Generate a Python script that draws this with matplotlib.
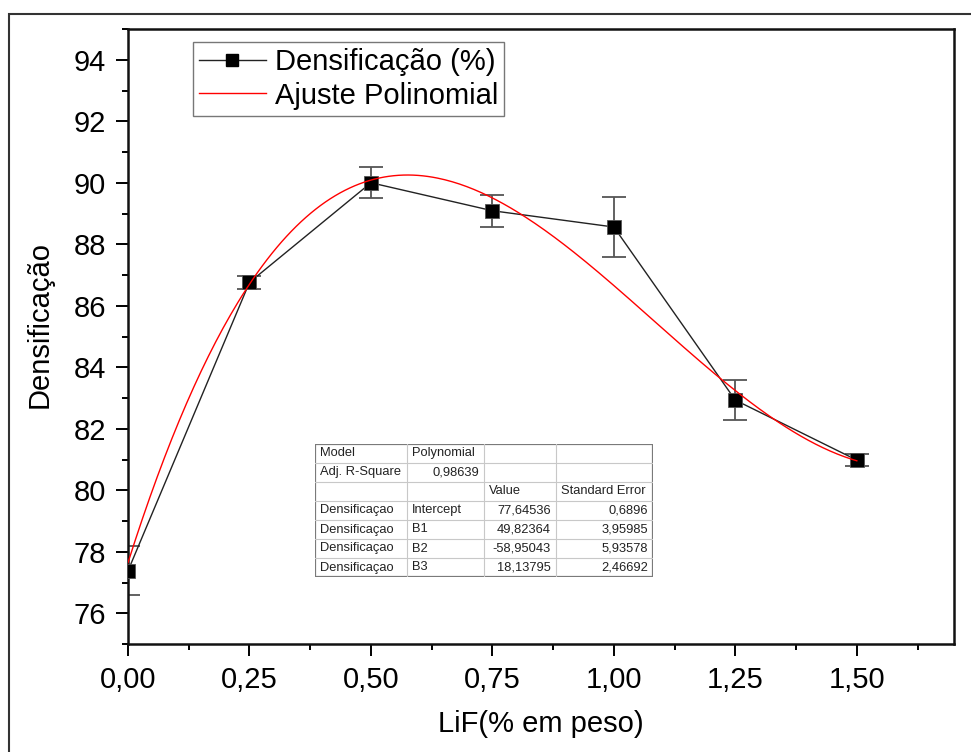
import numpy as np
import matplotlib
matplotlib.use("Agg")
import matplotlib.pyplot as plt
from matplotlib.patches import Rectangle
from matplotlib.lines import Line2D

plt.rcParams['font.family'] = ['Liberation Sans', 'DejaVu Sans']

# Measured densification vs LiF content
lif = [0.00, 0.25, 0.50, 0.75, 1.00, 1.25, 1.50]
densif = [77.38, 86.76, 90.00, 89.09, 88.56, 82.93, 80.98]
densif_err = [0.80, 0.21, 0.50, 0.52, 0.97, 0.65, 0.19]

# Cubic fit coefficients (Intercept, B1, B2, B3) and their standard errors
coef_names = ["Intercept", "B1", "B2", "B3"]
coef_values = [77.64536, 49.82364, -58.95043, 18.13795]
coef_errors = [0.6896, 3.95985, 5.93578, 2.46692]
adj_r2 = 0.98639

x_ticks = [0.00, 0.25, 0.50, 0.75, 1.00, 1.25, 1.50]
y_ticks = [76, 78, 80, 82, 84, 86, 88, 90, 92, 94]


def br(v, nd):
    return f"{v:.{nd}f}".replace(".", ",")


fig = plt.figure(figsize=(9.71, 7.52), dpi=100)

# outer frame around the whole graph page
fig.patches.append(Rectangle((9 / 971, -0.2), 1.2, 1 - 14 / 752 + 0.2,
                             transform=fig.transFigure, fill=False,
                             edgecolor='#333333', linewidth=1.5))

ax = fig.add_axes([128 / 971, 1 - 644 / 752, (954 - 128) / 971, (644 - 29) / 752])

ax.errorbar(lif, densif, yerr=densif_err, fmt='none', ecolor='#555555',
            elinewidth=1.3, capsize=8.5, capthick=1.3, zorder=2)
ax.plot(lif, densif, color='#222222', lw=1.0, marker='s', markersize=10.5,
        markerfacecolor='black', markeredgecolor='#555555', markeredgewidth=0.6,
        zorder=3)

xf = np.linspace(0, 1.5, 300)
yf = np.polyval(coef_values[::-1], xf)
ax.plot(xf, yf, color='red', lw=1.0, zorder=4)

ax.set_xlim(0, 1.70)
ax.set_ylim(75, 95)
ax.set_xticks(x_ticks)
ax.set_xticklabels([br(v, 2) for v in x_ticks])
ax.set_yticks(y_ticks)
ax.set_yticklabels([str(v) for v in y_ticks])
ax.set_xticks(np.arange(0.125, 1.70, 0.25), minor=True)
ax.set_yticks(np.arange(75, 95.01, 1), minor=True)
ax.tick_params(which='major', direction='out', length=8.5, width=1.4,
               labelsize=21, pad=7.5)
ax.tick_params(which='minor', direction='out', length=4.5, width=1.4)
for s in ax.spines.values():
    s.set_linewidth(1.8)
    s.set_color('#111111')

ax.set_xlabel("LiF(% em peso)", fontsize=21)
ax.xaxis.set_label_coords(0.5, -0.108)
ax.set_ylabel("Densificação", fontsize=21)
ax.yaxis.set_label_coords(-0.09, 0.52)

handles = [
    Line2D([], [], color='#222222', lw=1.0, marker='s', markersize=8,
           markerfacecolor='black', markeredgecolor='black'),
    Line2D([], [], color='red', lw=1.0),
]
leg = ax.legend(handles, ["Densificação (%)", "Ajuste Polinomial"],
                loc='upper left', bbox_to_anchor=((193 - 128) / 826, (644 - 42) / 615),
                borderaxespad=0, fontsize=21, frameon=True, fancybox=False,
                edgecolor='#555555', handlelength=2.3, handletextpad=0.3,
                borderpad=0.2, labelspacing=0.2)
leg.get_frame().set_linewidth(1.0)

# fit summary table
tx0, ty0, tw, th = 315, 444, 338, 133
tab = fig.add_axes([tx0 / 971, 1 - (ty0 + th) / 752, tw / 971, th / 752])
tab.set_xlim(0, tw)
tab.set_ylim(th, 0)
tab.axis('off')
cols = [0, 92, 169, 241, tw]
nrows = 7
rh = th / nrows
for c in cols[1:-1]:
    tab.plot([c, c], [0, th], color='#c8c8c8', lw=0.8)
for r in range(1, nrows):
    tab.plot([0, tw], [r * rh, r * rh], color='#c8c8c8', lw=0.8)
tab.add_patch(Rectangle((0, 0), tw, th, fill=False, edgecolor='#7a7a7a', lw=1.6))

rows = [
    [("Model", 'l'), ("Polynomial", 'l'), ("", 'l'), ("", 'l')],
    [("Adj. R-Square", 'l'), (br(adj_r2, 5), 'r'), ("", 'l'), ("", 'l')],
    [("", 'l'), ("", 'l'), ("Value", 'l'), ("Standard Error", 'l')],
]
for name, v, e in zip(coef_names, coef_values, coef_errors):
    ve = f"{v}".replace(".", ",")
    ee = f"{e}".replace(".", ",")
    rows.append([("Densificaçao", 'l'), (name, 'l'), (ve, 'r'), (ee, 'r')])

for r, row in enumerate(rows):
    yc = (r + 0.5) * rh
    for c, (txt, al) in enumerate(row):
        if not txt:
            continue
        if al == 'l':
            tab.text(cols[c] + 5, yc, txt, ha='left', va='center', fontsize=9.3,
                     color='#222222')
        else:
            tab.text(cols[c + 1] - 5, yc, txt, ha='right', va='center', fontsize=9.3,
                     color='#222222')

fig.savefig("out.png", dpi=100)
